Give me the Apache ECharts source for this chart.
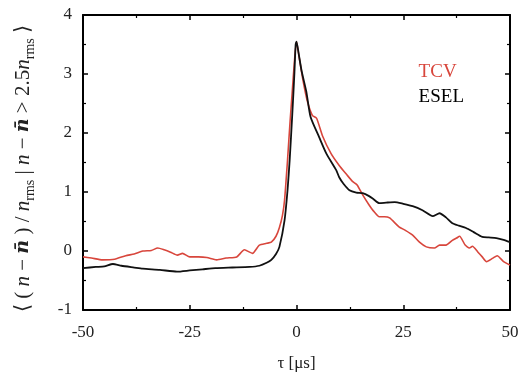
<!DOCTYPE html>
<html>
<head>
<meta charset="utf-8">
<script src="https://cdn.jsdelivr.net/npm/echarts@6/dist/echarts.min.js"></script>
<style>html,body{margin:0;padding:0;background:#fff;}#c{width:523px;height:376px;}</style>
</head>
<body>
<div id="c"></div>
<script>
// Data
const tcvTau = [-50,-48,-45.4,-42.6,-40,-38,-36,-34,-32.5,-31,-29.5,-27.9,-26.7,-25,-23,-21,-18.7,-16.5,-14,-12.2,-10.3,-8.7,-7,-5.9,-4.8,-4,-3.3,-2.8,-2.1,-1.5,-1,-0.5,0,0.7,1.5,2.5,3.7,4.7,6.1,8.1,10,11.7,13.1,14.2,15.5,17,18,19.4,20.6,21.8,24,25.5,27.2,28.8,30.4,32.3,33.5,35,36.5,37.5,38.2,39.5,40.5,41.2,42.5,43.5,44.5,46,47,48.5,50];
const tcvVal = [-0.10,-0.12,-0.15,-0.14,-0.08,-0.05,0.00,0.01,0.05,0.02,-0.02,-0.07,-0.04,-0.10,-0.10,-0.11,-0.15,-0.12,-0.10,0.02,-0.04,0.10,0.13,0.15,0.25,0.40,0.60,0.86,1.54,2.2,2.7,3.2,3.55,3.25,2.9,2.55,2.3,2.25,1.95,1.65,1.45,1.3,1.18,1.12,0.95,0.78,0.68,0.58,0.58,0.56,0.41,0.35,0.27,0.15,0.07,0.05,0.10,0.10,0.18,0.22,0.25,0.10,0.05,0.08,-0.02,-0.10,-0.18,-0.12,-0.08,-0.18,-0.24];
const eselTau = [-50,-47,-45,-43,-41,-38,-36,-32,-28,-25,-22,-19,-15,-11,-8.7,-7,-5.9,-4.8,-4,-2.8,-2.1,-1.6,-1,-0.5,-0.2,0,0.5,1.2,2.3,3.3,5.3,7,9.3,10,11,12.4,14,15.5,17,18,19.4,21,23,25,27.2,29.5,31.9,33.5,35,36.5,38,39.7,41.5,43.5,45,46.8,48.5,50];
const eselVal = [-0.29,-0.27,-0.26,-0.22,-0.25,-0.28,-0.30,-0.32,-0.35,-0.33,-0.31,-0.29,-0.28,-0.27,-0.25,-0.20,-0.15,-0.05,0.07,0.52,1.03,1.54,2.3,3.0,3.5,3.55,3.35,3.05,2.7,2.27,1.93,1.65,1.37,1.25,1.14,1.03,0.99,0.98,0.93,0.88,0.81,0.82,0.83,0.80,0.76,0.69,0.59,0.64,0.57,0.47,0.43,0.39,0.32,0.24,0.23,0.22,0.19,0.15];
const xTicks = [-50,-25,0,25,50];
const yTicks = [-1,0,1,2,3,4];

const FONT = '"Liberation Serif","Times New Roman",serif';
const RED = '#d8463c';
const BLACK = '#111111';
const chart = echarts.init(document.getElementById('c'), null, {renderer:'canvas'});
const pairs = (t, v) => t.map((x, i) => [x, v[i]]);
const tickStyle = {show:true, inside:true, length:5, lineStyle:{color:'#000', width:1.5}};
const minorStyle = {show:true, splitNumber:2, length:3, lineStyle:{color:'#000', width:1.2}};
const axLine = {show:true, onZero:false, lineStyle:{color:'#000', width:2}};

chart.setOption({
  backgroundColor:'#fff',
  animation:false,
  grid:{left:83, right:13, top:15, bottom:66, show:false, containLabel:false, outerBoundsMode:'none'},
  legend:{
    orient:'vertical', right:54, top:58, itemGap:6, itemWidth:0, itemHeight:0, icon:'rect',
    data:[{name:'TCV', textStyle:{color:RED}}, {name:'ESEL', textStyle:{color:'#000'}}],
    textStyle:{fontFamily:FONT, fontSize:19}
  },
  xAxis:[{
    type:'value', min:xTicks[0], max:xTicks[xTicks.length-1], interval:25,
    axisLine:axLine, axisTick:tickStyle, minorTick:minorStyle, splitLine:{show:false},
    axisLabel:{fontFamily:FONT, fontSize:17, color:'#222', margin:14},
    name:'τ [μs]', nameLocation:'middle', nameGap:45,
    nameTextStyle:{fontFamily:FONT, fontSize:17, color:'#222'}
  },{
    type:'value', position:'top', min:-50, max:50, interval:25,
    axisLine:axLine, axisTick:tickStyle, minorTick:minorStyle, splitLine:{show:false}, axisLabel:{show:false}
  }],
  yAxis:[{
    type:'value', min:yTicks[0], max:yTicks[yTicks.length-1], interval:1,
    axisLine:axLine, axisTick:tickStyle, minorTick:minorStyle, splitLine:{show:false},
    axisLabel:{fontFamily:FONT, fontSize:17, color:'#222', margin:11},
    name:'⟨ ( {i|n} − {b|n̄} ) / {i|n}{s|rms} | {i|n} − {b|n̄} > 2.5{i|n}{s|rms} ⟩',
    nameLocation:'middle', nameGap:46, nameRotate:90,
    nameTextStyle:{fontFamily:FONT, fontSize:21, color:'#222', lineHeight:28, padding:[0,12,0,0],
      rich:{
        i:{fontFamily:FONT, fontSize:21, fontStyle:'italic', color:'#222', lineHeight:28},
        b:{fontFamily:'"DejaVu Serif",serif', fontSize:19, fontStyle:'italic', fontWeight:'bold', color:'#222', lineHeight:28},
        s:{fontFamily:FONT, fontSize:14, color:'#222', lineHeight:18, verticalAlign:'bottom'}
      }}
  },{
    type:'value', position:'right', min:-1, max:4, interval:1,
    axisLine:axLine, axisTick:tickStyle, minorTick:minorStyle, splitLine:{show:false}, axisLabel:{show:false}
  }],
  series:[
    {name:'TCV', type:'line', data:pairs(tcvTau, tcvVal), showSymbol:false, smooth:0.2,
     lineStyle:{color:RED, width:1.6}, itemStyle:{color:RED}, z:2},
    {name:'ESEL', type:'line', data:pairs(eselTau, eselVal), showSymbol:false, smooth:0.2,
     lineStyle:{color:BLACK, width:1.8}, itemStyle:{color:BLACK}, z:3}
  ]
});
</script>
</body>
</html>
